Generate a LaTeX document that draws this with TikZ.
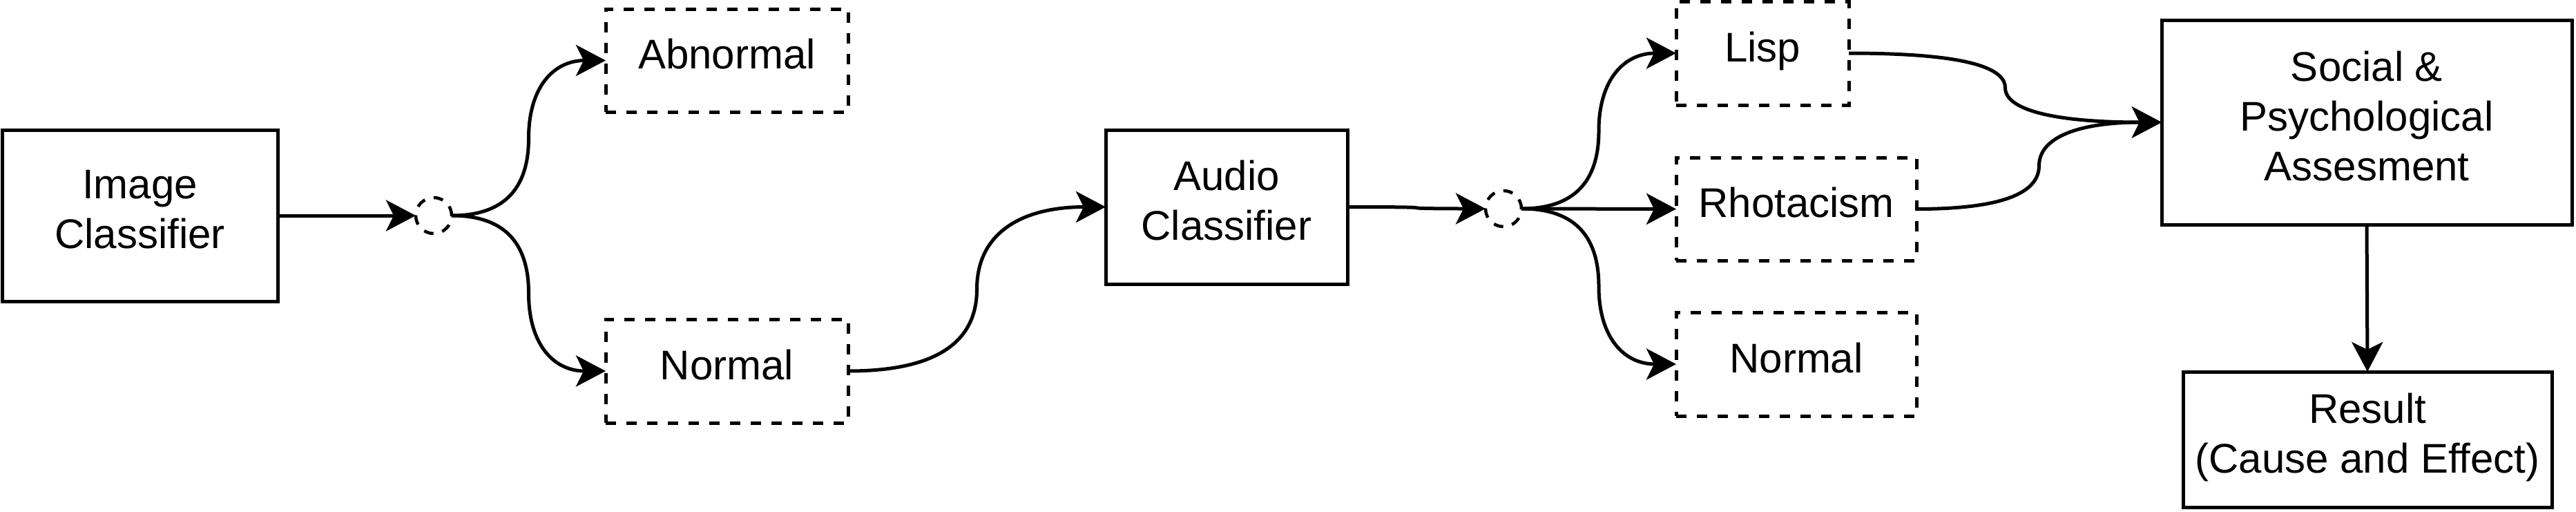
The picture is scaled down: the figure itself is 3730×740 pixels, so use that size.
\documentclass[tikz,border=0pt]{standalone}
\usepackage{fontspec}
\setmainfont{Liberation Sans}
\usetikzlibrary{arrows.meta,calc}
\tikzset{
  box/.style={draw, line width=5pt, rectangle, inner sep=0pt, outer sep=0pt, align=center,
    font=\fontsize{60}{72}\selectfont, execute at end node={\rule[-19pt]{0pt}{19pt}}},
  dbox/.style={box, dash pattern=on 15pt off 15pt},
  junc/.style={draw, circle, line width=4.5pt, dash pattern=on 14pt off 13pt, minimum size=52pt,
    inner sep=0pt, outer sep=0pt},
  conn/.style={line width=5pt, -{Stealth[length=43pt,width=45pt,inset=11pt]}},
  flow/.style={to path={let \p1=(\tikztostart), \p2=(\tikztotarget) in
    .. controls ({\x1+(\x2-\x1)/3},\y1) and ({(\x1+\x2)/2},{\y1+(\y2-\y1)/6}) .. ({(\x1+\x2)/2},{(\y1+\y2)/2})
    .. controls ({(\x1+\x2)/2},{\y2-(\y2-\y1)/6}) and ({\x2-(\x2-\x1)/3},\y2) .. (\tikztotarget)}}
}
\begin{document}
\begin{tikzpicture}[x=1pt,y=-1pt]
\path[use as bounding box, fill=white] (0,0) rectangle (3730,740);

\node[box, minimum width=399pt, minimum height=248pt] (img) at (202.5,312) {Image\\Classifier};
\node[junc] (j1) at (628,312) {};
\node[dbox, minimum width=351pt, minimum height=149pt] (abn) at (1052.5,87.5) {Abnormal};
\node[dbox, minimum width=351pt, minimum height=150pt] (nor1) at (1052.5,537) {Normal};
\node[box, minimum width=350pt, minimum height=223pt] (aud) at (1776,299.5) {Audio\\Classifier};
\node[junc] (j2) at (2177,302) {};
\node[dbox, minimum width=250pt, minimum height=150pt] (lisp) at (2552,77) {Lisp};
\node[dbox, minimum width=348pt, minimum height=149pt] (rho) at (2601,302.5) {Rhotacism};
\node[dbox, minimum width=348pt, minimum height=150pt] (nor2) at (2601,527) {Normal};
\node[box, minimum width=594pt, minimum height=296pt] (soc) at (3427,177) {Social \&\\Psychological\\Assesment};
\node[box, minimum width=534pt, minimum height=196pt] (res) at (3428,636) {Result\\(Cause and Effect)};

\draw[conn] (img.east) -- (j1.west);
\draw[conn] (j1.east) to[flow] (abn.west);
\draw[conn] (j1.east) to[flow] (nor1.west);
\draw[conn] (nor1.east) to[flow] (aud.west);
\draw[conn] (aud.east) to[flow] (j2.west);
\draw[conn] (j2.east) to[flow] (lisp.west);
\draw[conn] (j2.east) -- (rho.west);
\draw[conn] (j2.east) to[flow] (nor2.west);
\draw[conn] (lisp.east) to[flow] (soc.west);
\draw[conn] (rho.east) to[flow] (soc.west);
\draw[conn] (soc.south) -- (res.north);
\end{tikzpicture}
\end{document}
